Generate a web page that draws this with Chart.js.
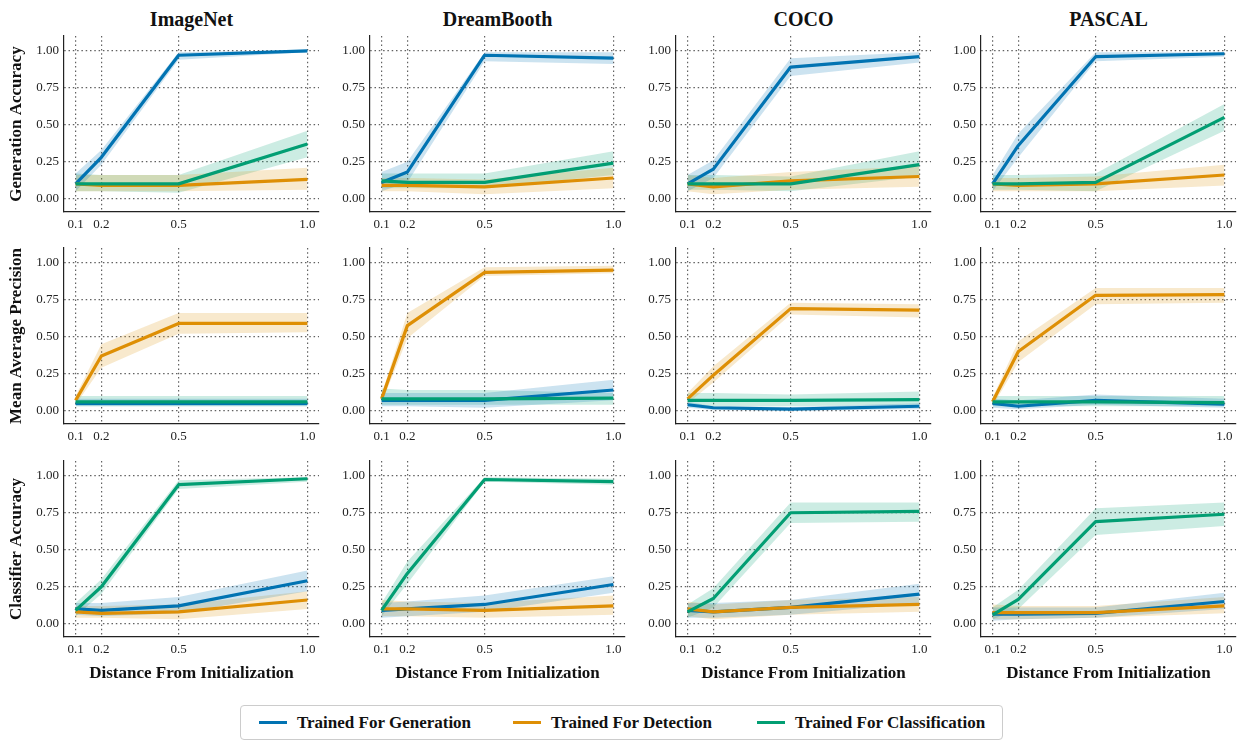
<!DOCTYPE html>
<html lang="en">
<head>
<meta charset="UTF-8">
<title>Distance From Initialization</title>
<script src="https://cdn.jsdelivr.net/npm/chart.js"></script>
<style>
    body {
        margin: 0;
        background: #fff;
        font-family: "Liberation Serif", "Times New Roman", serif;
    }
    #fig {
        position: relative;
        width: 1249px;
        height: 752px;
        overflow: hidden;
    }
    #fig canvas {
        position: absolute;
    }
    .col-title {
        position: absolute;
        font-weight: bold;
        font-size: 20px;
        line-height: 24px;
        text-align: center;
        color: #111;
    }
    .legend {
        position: absolute;
        left: 240px;
        top: 705px;
        width: 763px;
        height: 35px;
        border: 1px solid #ccc;
        border-radius: 4px;
        box-sizing: border-box;
    }
    .legend .item {
        position: absolute;
        top: 0;
        height: 33px;
        display: flex;
        align-items: center;
        font-weight: bold;
        font-size: 17px;
        color: #111;
        white-space: nowrap;
    }
    .legend .swatch {
        width: 28px;
        height: 3px;
        margin-right: 10px;
    }
</style>
</head>
<body>
<div id="fig"></div>

<script>
// ---- data ----
const distances = [0.1, 0.2, 0.5, 1.0];
const yTicks = [0, 0.25, 0.5, 0.75, 1.0];
const datasetNames = ['ImageNet', 'DreamBooth', 'COCO', 'PASCAL'];
const metricNames = ['Generation Accuracy', 'Mean Average Precision', 'Classifier Accuracy'];
const seriesNames = ['Trained For Generation', 'Trained For Detection', 'Trained For Classification'];
const xTitle = 'Distance From Initialization';

// each: [ImageNet, DreamBooth, COCO, PASCAL] -> [generation, detection, classification]
const genMean = [
    [[0.10, 0.28, 0.97, 1.00], [0.10, 0.09, 0.09, 0.13], [0.10, 0.10, 0.10, 0.37]],
    [[0.11, 0.18, 0.97, 0.95], [0.09, 0.09, 0.08, 0.14], [0.12, 0.11, 0.11, 0.24]],
    [[0.10, 0.20, 0.89, 0.96], [0.10, 0.08, 0.12, 0.15], [0.10, 0.10, 0.10, 0.23]],
    [[0.10, 0.36, 0.96, 0.98], [0.10, 0.09, 0.10, 0.16], [0.10, 0.10, 0.11, 0.55]]
];
const genLow = [
    [[0.05, 0.23, 0.94, 0.99], [0.05, 0.05, 0.05, 0.06], [0.05, 0.05, 0.04, 0.28]],
    [[0.05, 0.11, 0.93, 0.91], [0.05, 0.05, 0.03, 0.07], [0.07, 0.07, 0.07, 0.16]],
    [[0.05, 0.14, 0.83, 0.92], [0.05, 0.03, 0.06, 0.08], [0.06, 0.06, 0.05, 0.15]],
    [[0.05, 0.28, 0.93, 0.96], [0.05, 0.05, 0.05, 0.09], [0.06, 0.06, 0.05, 0.46]]
];
const genHigh = [
    [[0.17, 0.33, 0.99, 1.005], [0.16, 0.16, 0.16, 0.21], [0.17, 0.16, 0.16, 0.46]],
    [[0.18, 0.25, 0.99, 0.99], [0.14, 0.14, 0.13, 0.21], [0.17, 0.17, 0.17, 0.32]],
    [[0.16, 0.26, 0.95, 0.99], [0.16, 0.14, 0.18, 0.22], [0.16, 0.16, 0.15, 0.32]],
    [[0.16, 0.44, 0.99, 0.99], [0.14, 0.14, 0.15, 0.23], [0.16, 0.16, 0.17, 0.64]]
];

const mapMean = [
    [[0.05, 0.05, 0.05, 0.05], [0.07, 0.37, 0.59, 0.59], [0.06, 0.06, 0.06, 0.06]],
    [[0.07, 0.07, 0.07, 0.14], [0.08, 0.575, 0.935, 0.95], [0.08, 0.08, 0.08, 0.085]],
    [[0.04, 0.02, 0.01, 0.03], [0.08, 0.24, 0.69, 0.68], [0.07, 0.07, 0.07, 0.075]],
    [[0.05, 0.03, 0.07, 0.045], [0.06, 0.40, 0.78, 0.785], [0.06, 0.06, 0.06, 0.055]]
];
const mapLow = [
    [[0.03, 0.03, 0.03, 0.03], [0.04, 0.29, 0.52, 0.53], [0.03, 0.03, 0.03, 0.03]],
    [[0.03, 0.03, 0.02, 0.07], [0.05, 0.49, 0.91, 0.93], [0.04, 0.04, 0.04, 0.04]],
    [[0.02, 0.005, 0.0, 0.01], [0.05, 0.19, 0.65, 0.63], [0.03, 0.03, 0.03, 0.04]],
    [[0.02, 0.01, 0.04, 0.02], [0.03, 0.33, 0.72, 0.73], [0.03, 0.03, 0.03, 0.03]]
];
const mapHigh = [
    [[0.08, 0.08, 0.08, 0.08], [0.10, 0.45, 0.66, 0.66], [0.10, 0.10, 0.10, 0.10]],
    [[0.12, 0.12, 0.12, 0.21], [0.11, 0.66, 0.97, 0.98], [0.15, 0.14, 0.14, 0.12]],
    [[0.06, 0.03, 0.025, 0.05], [0.12, 0.30, 0.73, 0.72], [0.12, 0.12, 0.11, 0.13]],
    [[0.08, 0.07, 0.11, 0.08], [0.09, 0.47, 0.83, 0.83], [0.10, 0.10, 0.10, 0.10]]
];

const clsMean = [
    [[0.10, 0.09, 0.12, 0.29], [0.08, 0.07, 0.08, 0.16], [0.09, 0.25, 0.94, 0.98]],
    [[0.09, 0.10, 0.13, 0.265], [0.10, 0.10, 0.09, 0.12], [0.09, 0.34, 0.975, 0.96]],
    [[0.09, 0.08, 0.11, 0.20], [0.10, 0.08, 0.11, 0.13], [0.08, 0.17, 0.75, 0.76]],
    [[0.065, 0.065, 0.07, 0.15], [0.075, 0.075, 0.075, 0.12], [0.06, 0.165, 0.69, 0.74]]
];
const clsLow = [
    [[0.06, 0.05, 0.07, 0.22], [0.04, 0.04, 0.03, 0.10], [0.05, 0.20, 0.91, 0.96]],
    [[0.04, 0.05, 0.08, 0.21], [0.05, 0.05, 0.04, 0.06], [0.05, 0.27, 0.96, 0.94]],
    [[0.04, 0.04, 0.06, 0.14], [0.05, 0.03, 0.06, 0.08], [0.04, 0.11, 0.68, 0.69]],
    [[0.02, 0.03, 0.04, 0.10], [0.03, 0.03, 0.04, 0.07], [0.03, 0.10, 0.60, 0.66]]
];
const clsHigh = [
    [[0.14, 0.14, 0.18, 0.36], [0.12, 0.12, 0.13, 0.22], [0.14, 0.30, 0.97, 0.99]],
    [[0.14, 0.15, 0.19, 0.32], [0.16, 0.15, 0.14, 0.19], [0.14, 0.42, 0.99, 0.98]],
    [[0.14, 0.14, 0.16, 0.27], [0.15, 0.13, 0.16, 0.18], [0.13, 0.24, 0.82, 0.82]],
    [[0.11, 0.11, 0.11, 0.21], [0.13, 0.12, 0.12, 0.18], [0.11, 0.23, 0.78, 0.82]]
];

const rowMean = [genMean, mapMean, clsMean];
const rowLow = [genLow, mapLow, clsLow];
const rowHigh = [genHigh, mapHigh, clsHigh];

// ---- styling / layout ----
const lineColors = ['#0173b2', '#de8f05', '#029e73'];
const bandColors = ['rgba(1,115,178,0.2)', 'rgba(222,143,5,0.2)', 'rgba(2,158,115,0.2)'];
const FONT = '"Liberation Serif", "Times New Roman", serif';
const GRID = 'rgba(0,0,0,0.62)';
const AXIS = '#222';

const colLeft = [64, 370, 676, 981];
const rowTop = [36, 248, 461];
const PLOT_W = 255;
const PLOT_H = 176;
const Y_AXIS_W = 62;
const PAD_T = 16;   // must exceed the y scale's own label padding
const PAD_R = 8;
const xAxisH = [30, 30, 51];

const fig = document.getElementById('fig');

function pts(arr) {
    return arr.map((v, i) => ({ x: distances[i], y: v }));
}

function makePanel(r, c) {
    const canvas = document.createElement('canvas');
    const w = Y_AXIS_W + PLOT_W + PAD_R;
    const h = PAD_T + PLOT_H + xAxisH[r];
    canvas.width = w;
    canvas.height = h;
    canvas.style.left = (colLeft[c] - Y_AXIS_W) + 'px';
    canvas.style.top = (rowTop[r] - PAD_T) + 'px';
    canvas.style.width = w + 'px';
    canvas.style.height = h + 'px';
    fig.appendChild(canvas);

    const datasets = [];
    // bands first (upper fills down to lower)
    for (let s = 0; s < 3; s++) {
        datasets.push({
            data: pts(rowHigh[r][c][s]),
            borderWidth: 0,
            pointRadius: 0,
            backgroundColor: bandColors[s],
            fill: '+1',
            order: 10
        });
        datasets.push({
            data: pts(rowLow[r][c][s]),
            borderWidth: 0,
            pointRadius: 0,
            fill: false,
            order: 10
        });
    }
    // mean lines, green on top
    for (let s = 0; s < 3; s++) {
        datasets.push({
            label: seriesNames[s],
            data: pts(rowMean[r][c][s]),
            borderColor: lineColors[s],
            borderWidth: 3.2,
            borderJoinStyle: 'round',
            pointRadius: 0,
            fill: false,
            tension: 0,
            order: 3 - s
        });
    }

    new Chart(canvas.getContext('2d'), {
        type: 'line',
        data: { datasets: datasets },
        options: {
            responsive: false,
            animation: false,
            events: [],
            layout: { autoPadding: false, padding: { top: PAD_T, right: PAD_R, left: 0, bottom: 0 } },
            plugins: { legend: { display: false }, tooltip: { enabled: false } },
            scales: {
                x: {
                    type: 'linear',
                    min: 0.055,
                    max: 1.045,
                    afterBuildTicks: s => { s.ticks = distances.map(v => ({ value: v })); },
                    afterFit: s => { s.height = xAxisH[r]; },
                    ticks: {
                        callback: v => v.toFixed(1),
                        autoSkip: false,
                        maxRotation: 0,
                        padding: 5,
                        color: AXIS,
                        font: { family: FONT, size: 13 }
                    },
                    grid: { color: GRID, lineWidth: 1.2, drawTicks: false },
                    border: { display: true, color: AXIS, width: 1.2, dash: [1.5, 2.8] },
                    title: {
                        display: r === 2,
                        text: xTitle,
                        color: '#111',
                        padding: { top: 4, bottom: 4 },
                        font: { family: FONT, size: 17, weight: 'bold' }
                    }
                },
                y: {
                    type: 'linear',
                    min: -0.09,
                    max: 1.1,
                    afterBuildTicks: s => { s.ticks = yTicks.map(v => ({ value: v })); },
                    afterFit: s => { s.width = Y_AXIS_W; },
                    ticks: {
                        callback: v => v.toFixed(2),
                        padding: 5,
                        color: AXIS,
                        font: { family: FONT, size: 13 }
                    },
                    grid: { color: GRID, lineWidth: 1.2, drawTicks: false },
                    border: { display: true, color: AXIS, width: 1.2, dash: [1.5, 2.8] },
                    title: {
                        display: c === 0,
                        text: metricNames[r],
                        color: '#111',
                        padding: { top: 4, bottom: 4 },
                        font: { family: FONT, size: 17, weight: 'bold' }
                    }
                }
            }
        }
    });
}

// column titles
datasetNames.forEach((name, c) => {
    const d = document.createElement('div');
    d.className = 'col-title';
    d.textContent = name;
    d.style.left = colLeft[c] + 'px';
    d.style.width = PLOT_W + 'px';
    d.style.top = '7px';
    fig.appendChild(d);
});

for (let r = 0; r < 3; r++) {
    for (let c = 0; c < 4; c++) {
        makePanel(r, c);
    }
}

// legend
const legend = document.createElement('div');
legend.className = 'legend';
const legendX = [18, 272, 516];
seriesNames.forEach((name, s) => {
    const item = document.createElement('div');
    item.className = 'item';
    item.style.left = legendX[s] + 'px';
    const sw = document.createElement('span');
    sw.className = 'swatch';
    sw.style.background = lineColors[s];
    const txt = document.createElement('span');
    txt.textContent = name;
    item.appendChild(sw);
    item.appendChild(txt);
    legend.appendChild(item);
});
fig.appendChild(legend);
</script>
</body>
</html>
